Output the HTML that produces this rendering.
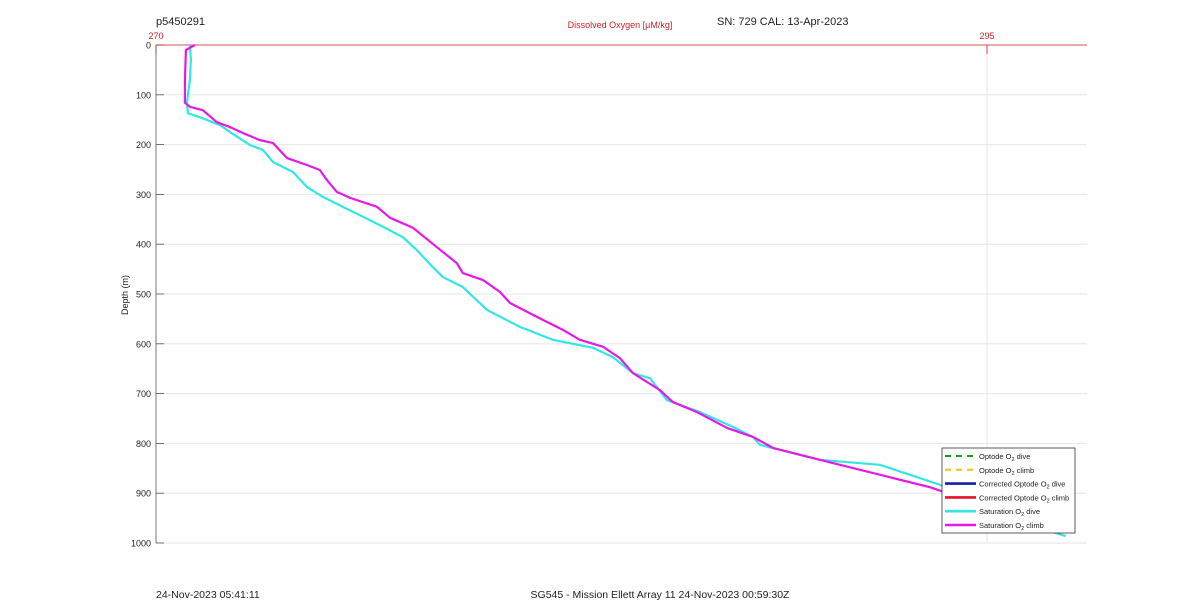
<!DOCTYPE html>
<html><head><meta charset="utf-8"><style>
body{margin:0;background:#fff;font-family:"Liberation Sans",Arial,sans-serif}
svg{display:block}
</style></head><body>
<svg id="chart" width="1200" height="611" viewBox="0 0 1200 611" xmlns="http://www.w3.org/2000/svg" font-family="Liberation Sans, Arial, sans-serif">
<g id="grid"></g>
<g id="axes"></g>
<g id="series"></g>
<text x="156" y="25" font-size="11" fill="#222">p5450291</text>
<text x="620" y="28" font-size="9" fill="#c8232b" text-anchor="middle">Dissolved Oxygen [μM/kg]</text>
<text x="717" y="25" font-size="11" fill="#222">SN: 729  CAL: 13-Apr-2023</text>
<text x="128" y="295" font-size="9" fill="#222" text-anchor="middle" transform="rotate(-90 128 295)">Depth (m)</text>
<text x="156" y="598" font-size="10.5" fill="#222">24-Nov-2023 05:41:11</text>
<text x="660" y="598" font-size="10.5" fill="#222" text-anchor="middle">SG545 - Mission Ellett Array 11 24-Nov-2023 00:59:30Z</text>
<g id="legend">
<rect x="942" y="448" width="133" height="85" fill="#fff" stroke="#333" stroke-width="0.8"/>
</g>
</svg>
<script>
const yTicks=[0,100,200,300,400,500,600,700,800,900,1000];
const xTicks=[270,295];
const cyanDepth=[0,30,70,116,137,145,161,175,201,211,235,255,285,305,325,345,365,386,412,446,466,486,532,566,592,608,627,659,669,713,737,767,787,803,833,843,883,924,964,986];
const cyanO2=[271.02,271.05,271.02,270.93,270.96,271.32,271.93,272.23,272.83,273.22,273.52,274.12,274.54,275.02,275.62,276.23,276.83,277.43,277.85,278.33,278.63,279.23,279.96,280.95,281.94,283.15,283.75,284.35,284.86,285.37,286.36,287.36,287.96,288.17,289.97,291.78,293.58,294.79,296.29,297.37];
const magDepth=[0,10,70,116,124,131,155,165,177,191,197,227,241,251,271,295,307,325,347,367,406,438,458,472,496,518,546,572,592,606,629,659,693,717,737,769,787,809,833,853,873,888,908,934,964,980];
const magO2=[271.17,270.90,270.87,270.87,271.02,271.41,271.83,272.23,272.62,273.13,273.52,273.94,274.54,274.93,275.14,275.44,275.84,276.65,277.04,277.73,278.45,279.05,279.23,279.84,280.35,280.65,281.46,282.24,282.75,283.45,283.96,284.35,285.16,285.55,286.27,287.18,287.96,288.56,289.97,291.18,292.38,293.28,294.18,295.39,296.59,297.19];
const legendLabels=["Optode O2 dive","Optode O2 climb","Corrected Optode O2 dive","Corrected Optode O2 climb","Saturation O2 dive","Saturation O2 climb"];
const legendColors=["#1a9a1a","#e6c619","#1020a8","#e8102a","#33e6e6","#e619e6"];
const NS="http://www.w3.org/2000/svg";
const X0=156,X1=1087,Y0=45,Y1=543;
const xs=v=>X0+(v-270)*(987-156)/25;
const ys=d=>Y0+d*(Y1-Y0)/1000;
function mk(tag,attrs,parent){const e=document.createElementNS(NS,tag);for(const k in attrs)e.setAttribute(k,attrs[k]);parent.appendChild(e);return e;}
const grid=document.getElementById('grid'),axes=document.getElementById('axes'),ser=document.getElementById('series'),leg=document.getElementById('legend');
yTicks.forEach(t=>{
 const l=mk('line',{x1:X0,x2:X1,y1:ys(t),y2:ys(t),stroke:'#e6e6e6','stroke-width':1},grid);
 
 
 const tk=mk('line',{x1:X0,x2:X0+8,y1:ys(t),y2:ys(t),stroke:'#555','stroke-width':0.8},axes);
 
 
 const tx=mk('text',{x:X0-5,y:ys(t)+3.5,'font-size':9,fill:'#222','text-anchor':'end'},axes);
 tx.textContent=t;
 
 
});
xTicks.forEach(t=>{
 if(t!==270){const g=mk('line',{x1:xs(t),x2:xs(t),y1:Y0,y2:Y1,stroke:'#e6e6e6','stroke-width':1},grid);
 
 }
 const tk=mk('line',{x1:xs(t),x2:xs(t),y1:Y0,y2:Y0+9,stroke:'#c8232b','stroke-width':0.8},axes);
 
 
 const tx=mk('text',{x:xs(t),y:Y0-6,'font-size':9,fill:'#c8232b','text-anchor':'middle'},axes);
 tx.textContent=t;
 
 
});
const la=mk('line',{x1:X0,x2:X0,y1:Y0,y2:Y1,stroke:'#555','stroke-width':0.8},axes);


const ta=mk('line',{x1:X0,x2:X1,y1:Y0,y2:Y0,stroke:'#c8232b','stroke-width':0.8},axes);


function line(o2,dep,col,name){
 const p=mk('polyline',{points:o2.map((v,i)=>xs(v)+','+ys(dep[i])).join(' '),fill:'none',stroke:col,'stroke-width':2.2,'stroke-linejoin':'round'},ser);
 
 
}
line(cyanO2,cyanDepth,'#33e6e6','saturation-o2-dive-line');
line(magO2,magDepth,'#e619e6','saturation-o2-climb-line');
legendLabels.forEach((lab,i)=>{
 const y=456+i*13.8;
 const l=mk('line',{x1:945,x2:976,y1:y,y2:y,stroke:legendColors[i],'stroke-width':i<2?2:2.6},leg);
 if(i<2)l.setAttribute('stroke-dasharray','6 5');
 
 
 const t=mk('text',{x:979,y:y+3,'font-size':7.5,fill:'#222'},leg);
 const parts=lab.split('O2');
 t.appendChild(document.createTextNode(parts[0]+'O'));
 const s=mk('tspan',{dy:2,'font-size':5.5},t);s.textContent='2';
 const r=mk('tspan',{dy:-2},t);r.textContent=parts[1];
 
 
});
</script>
</body></html>
